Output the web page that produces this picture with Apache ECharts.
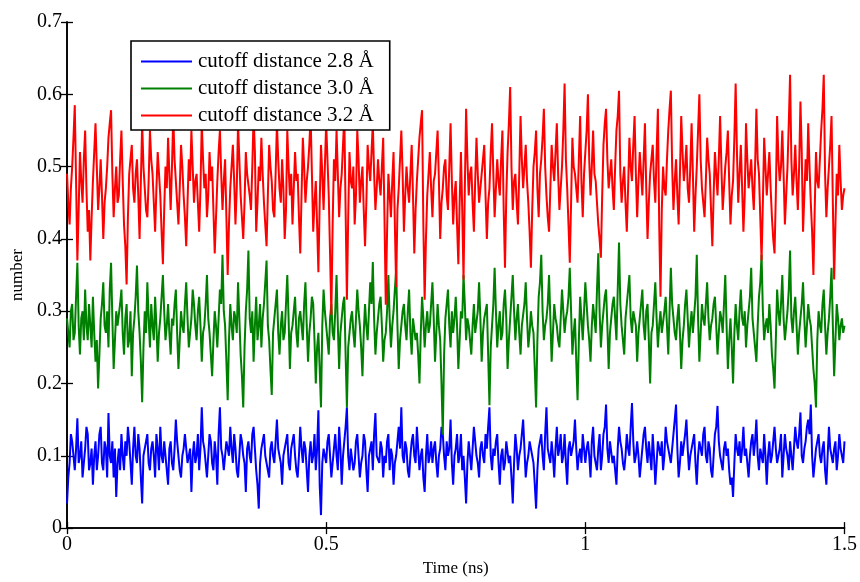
<!DOCTYPE html>
<html>
<head>
<meta charset="utf-8">
<script src="https://cdn.jsdelivr.net/npm/echarts@6/dist/echarts.min.js"></script>
<style>html,body{margin:0;padding:0;background:#fff}#chart{width:860px;height:582px}</style>
</head>
<body>
<div id="chart"></div>
<script>
// sampling step (ns) of the time series
const timeStep = 0.0025;
const seriesNames = ['cutoff distance 2.8 Å', 'cutoff distance 3.0 Å', 'cutoff distance 3.2 Å'];
const xTicks = [0, 0.5, 1, 1.5];
const yTicks = [0, 0.1, 0.2, 0.3, 0.4, 0.5, 0.6, 0.7];

const blue = [
0.034,0.07,0.09,0.13,0.12,0.10,0.08,0.11,0.152,0.09,0.10,0.12,0.07,0.09,0.11,0.14,0.13,0.08,0.09,0.11,
0.06,0.10,0.12,0.08,0.10,0.13,0.14,0.09,0.08,0.12,0.11,0.07,0.159,0.10,0.09,0.12,0.07,0.11,0.043,0.09,
0.11,0.08,0.13,0.10,0.08,0.12,0.10,0.14,0.12,0.09,0.06,0.11,0.14,0.10,0.09,0.13,0.11,0.07,0.034,0.10,
0.10,0.12,0.13,0.09,0.08,0.11,0.12,0.10,0.07,0.13,0.11,0.08,0.14,0.10,0.09,0.12,0.10,0.08,0.06,0.11,
0.12,0.09,0.08,0.11,0.15,0.12,0.10,0.08,0.07,0.10,0.11,0.13,0.13,0.09,0.09,0.11,0.05,0.10,0.12,0.09,
0.10,0.13,0.08,0.11,0.167,0.12,0.11,0.09,0.07,0.10,0.13,0.12,0.09,0.08,0.12,0.10,0.06,0.13,0.167,0.11,
0.10,0.08,0.08,0.12,0.12,0.10,0.14,0.11,0.09,0.13,0.11,0.08,0.07,0.10,0.13,0.12,0.10,0.09,0.05,0.11,
0.12,0.10,0.09,0.13,0.14,0.11,0.08,0.06,0.027,0.09,0.11,0.12,0.13,0.10,0.10,0.08,0.07,0.11,0.12,0.10,
0.09,0.12,0.15,0.11,0.11,0.09,0.06,0.10,0.10,0.12,0.13,0.09,0.08,0.11,0.12,0.13,0.10,0.08,0.07,0.10,
0.14,0.11,0.09,0.12,0.11,0.08,0.05,0.10,0.12,0.09,0.10,0.13,0.08,0.11,0.163,0.06,0.018,0.09,0.11,0.10,
0.09,0.12,0.13,0.10,0.07,0.09,0.11,0.13,0.10,0.08,0.14,0.11,0.06,0.10,0.12,0.14,0.167,0.10,0.08,0.11,
0.11,0.08,0.09,0.12,0.13,0.10,0.07,0.09,0.10,0.13,0.12,0.08,0.05,0.10,0.11,0.12,0.08,0.13,0.159,0.10,
0.10,0.09,0.12,0.11,0.07,0.10,0.09,0.12,0.13,0.08,0.11,0.10,0.06,0.09,0.10,0.12,0.14,0.11,0.167,0.10,
0.09,0.12,0.11,0.08,0.07,0.10,0.12,0.13,0.10,0.09,0.14,0.11,0.08,0.10,0.11,0.07,0.05,0.10,0.13,0.09,
0.10,0.12,0.09,0.11,0.12,0.09,0.07,0.10,0.11,0.14,0.13,0.10,0.08,0.12,0.10,0.11,0.15,0.09,0.06,0.10,
0.11,0.13,0.09,0.10,0.13,0.08,0.10,0.07,0.034,0.09,0.12,0.10,0.08,0.11,0.14,0.12,0.10,0.09,0.07,0.11,
0.12,0.10,0.09,0.13,0.11,0.14,0.167,0.10,0.08,0.11,0.10,0.12,0.13,0.09,0.06,0.10,0.11,0.08,0.09,0.12,
0.12,0.09,0.10,0.07,0.034,0.09,0.13,0.11,0.08,0.10,0.11,0.13,0.15,0.11,0.07,0.09,0.10,0.12,0.12,0.10,
0.09,0.06,0.027,0.08,0.11,0.12,0.13,0.10,0.08,0.13,0.167,0.11,0.10,0.09,0.12,0.10,0.07,0.11,0.14,0.10,
0.11,0.13,0.09,0.10,0.13,0.09,0.06,0.11,0.12,0.10,0.10,0.12,0.15,0.11,0.08,0.10,0.11,0.09,0.13,0.11,
0.09,0.11,0.12,0.10,0.07,0.12,0.14,0.10,0.10,0.08,0.11,0.13,0.08,0.10,0.13,0.14,0.171,0.11,0.09,0.12,
0.12,0.09,0.10,0.08,0.06,0.11,0.14,0.12,0.11,0.09,0.08,0.10,0.13,0.11,0.10,0.14,0.173,0.12,0.09,0.10,
0.12,0.10,0.07,0.09,0.11,0.13,0.14,0.11,0.09,0.12,0.10,0.08,0.13,0.10,0.06,0.09,0.12,0.11,0.10,0.12,
0.08,0.10,0.14,0.12,0.11,0.10,0.09,0.11,0.13,0.15,0.171,0.11,0.07,0.09,0.12,0.10,0.10,0.13,0.15,0.11,
0.08,0.10,0.11,0.12,0.13,0.09,0.06,0.10,0.12,0.11,0.10,0.13,0.14,0.10,0.09,0.12,0.11,0.08,0.07,0.10,
0.13,0.14,0.169,0.12,0.10,0.09,0.08,0.11,0.12,0.10,0.11,0.08,0.06,0.07,0.043,0.09,0.13,0.11,0.10,0.12,
0.09,0.11,0.14,0.10,0.11,0.09,0.07,0.10,0.12,0.13,0.10,0.12,0.15,0.10,0.08,0.11,0.11,0.09,0.13,0.10,
0.06,0.10,0.12,0.09,0.10,0.12,0.14,0.11,0.09,0.10,0.11,0.13,0.07,0.10,0.13,0.11,0.10,0.08,0.12,0.10,
0.08,0.11,0.14,0.12,0.11,0.13,0.16,0.10,0.09,0.11,0.12,0.14,0.15,0.13,0.171,0.10,0.07,0.09,0.11,0.12,
0.13,0.10,0.09,0.11,0.12,0.08,0.06,0.10,0.14,0.11,0.10,0.09,0.11,0.12,0.08,0.10,0.13,0.11,0.10,0.09,
0.12];

const green = [
0.29,0.27,0.25,0.30,0.31,0.26,0.27,0.32,0.367,0.28,0.24,0.29,0.30,0.26,0.33,0.28,0.26,0.31,0.28,0.25,
0.32,0.27,0.23,0.26,0.193,0.24,0.29,0.31,0.34,0.28,0.27,0.30,0.25,0.33,0.367,0.29,0.22,0.26,0.30,0.28,
0.28,0.31,0.33,0.27,0.24,0.29,0.31,0.25,0.26,0.30,0.21,0.27,0.29,0.32,0.363,0.30,0.27,0.23,0.174,0.25,
0.30,0.27,0.34,0.29,0.25,0.31,0.28,0.26,0.32,0.28,0.23,0.27,0.29,0.32,0.35,0.30,0.26,0.28,0.31,0.27,
0.24,0.29,0.28,0.31,0.33,0.27,0.22,0.26,0.30,0.28,0.27,0.31,0.34,0.29,0.25,0.27,0.29,0.33,0.31,0.28,
0.26,0.30,0.32,0.28,0.23,0.27,0.28,0.31,0.35,0.29,0.27,0.24,0.21,0.26,0.30,0.28,0.25,0.29,0.33,0.31,
0.378,0.30,0.28,0.23,0.177,0.26,0.31,0.28,0.26,0.30,0.29,0.27,0.34,0.29,0.24,0.21,0.167,0.25,0.30,0.33,
0.384,0.29,0.27,0.30,0.23,0.28,0.32,0.26,0.28,0.31,0.25,0.29,0.31,0.34,0.37,0.28,0.26,0.22,0.184,0.27,
0.29,0.31,0.33,0.27,0.24,0.28,0.30,0.26,0.27,0.31,0.35,0.29,0.22,0.27,0.28,0.30,0.32,0.27,0.25,0.29,
0.30,0.28,0.26,0.31,0.34,0.28,0.23,0.27,0.29,0.32,0.31,0.26,0.20,0.25,0.27,0.22,0.167,0.28,0.33,0.30,
0.28,0.26,0.24,0.29,0.31,0.27,0.26,0.30,0.35,0.28,0.22,0.27,0.29,0.31,0.32,0.24,0.167,0.25,0.27,0.29,
0.30,0.27,0.25,0.29,0.33,0.30,0.28,0.25,0.21,0.27,0.31,0.28,0.26,0.30,0.34,0.31,0.368,0.29,0.24,0.27,
0.29,0.31,0.32,0.28,0.23,0.26,0.27,0.30,0.35,0.29,0.25,0.28,0.30,0.33,0.357,0.28,0.22,0.26,0.28,0.30,
0.31,0.28,0.26,0.30,0.33,0.27,0.24,0.29,0.29,0.26,0.27,0.24,0.20,0.27,0.32,0.29,0.25,0.28,0.30,0.27,
0.28,0.31,0.34,0.29,0.23,0.27,0.31,0.28,0.26,0.20,0.129,0.24,0.29,0.31,0.33,0.28,0.25,0.30,0.27,0.29,
0.32,0.28,0.22,0.26,0.30,0.29,0.35,0.31,0.26,0.29,0.28,0.26,0.24,0.28,0.31,0.27,0.27,0.30,0.34,0.29,
0.23,0.27,0.29,0.30,0.31,0.24,0.17,0.25,0.28,0.31,0.36,0.30,0.25,0.28,0.30,0.26,0.27,0.31,0.33,0.29,
0.22,0.26,0.29,0.32,0.35,0.30,0.26,0.29,0.31,0.27,0.24,0.28,0.28,0.31,0.34,0.29,0.25,0.27,0.30,0.28,
0.27,0.22,0.167,0.26,0.32,0.34,0.378,0.30,0.26,0.28,0.29,0.31,0.35,0.29,0.23,0.27,0.31,0.29,0.28,0.26,
0.25,0.29,0.33,0.30,0.27,0.29,0.30,0.32,0.36,0.30,0.24,0.27,0.29,0.23,0.177,0.26,0.32,0.29,0.26,0.30,
0.34,0.31,0.28,0.26,0.23,0.28,0.31,0.29,0.27,0.33,0.38,0.30,0.25,0.28,0.30,0.32,0.33,0.28,0.22,0.27,
0.29,0.31,0.32,0.29,0.26,0.33,0.395,0.31,0.28,0.26,0.24,0.29,0.31,0.33,0.35,0.29,0.27,0.30,0.30,0.28,
0.23,0.27,0.29,0.31,0.33,0.28,0.26,0.30,0.31,0.26,0.20,0.27,0.28,0.31,0.34,0.29,0.25,0.28,0.30,0.27,
0.27,0.30,0.32,0.28,0.24,0.30,0.36,0.31,0.29,0.27,0.26,0.29,0.31,0.27,0.22,0.26,0.28,0.31,0.33,0.29,
0.25,0.28,0.30,0.27,0.27,0.32,0.378,0.29,0.23,0.27,0.31,0.29,0.28,0.31,0.34,0.29,0.26,0.28,0.29,0.31,
0.32,0.28,0.24,0.27,0.30,0.29,0.27,0.31,0.35,0.28,0.22,0.26,0.29,0.25,0.20,0.27,0.31,0.28,0.26,0.30,
0.33,0.29,0.28,0.30,0.25,0.28,0.30,0.32,0.36,0.29,0.27,0.25,0.23,0.28,0.32,0.34,0.378,0.30,0.26,0.28,
0.29,0.27,0.31,0.28,0.24,0.22,0.193,0.26,0.33,0.30,0.28,0.31,0.35,0.29,0.26,0.28,0.30,0.33,0.384,0.29,
0.27,0.30,0.32,0.28,0.24,0.27,0.29,0.31,0.34,0.29,0.25,0.28,0.31,0.29,0.28,0.25,0.22,0.20,0.167,0.26,
0.30,0.28,0.27,0.31,0.33,0.28,0.24,0.27,0.29,0.32,0.36,0.28,0.21,0.26,0.31,0.29,0.26,0.28,0.29,0.27,
0.28];

const red = [
0.49,0.45,0.42,0.47,0.50,0.54,0.585,0.48,0.37,0.44,0.52,0.48,0.45,0.51,0.55,0.47,0.41,0.44,0.37,0.43,
0.48,0.52,0.56,0.50,0.44,0.47,0.51,0.46,0.40,0.45,0.47,0.50,0.54,0.56,0.578,0.49,0.43,0.47,0.50,0.45,
0.46,0.51,0.55,0.48,0.42,0.39,0.337,0.43,0.49,0.51,0.53,0.47,0.45,0.49,0.51,0.46,0.40,0.48,0.56,0.50,
0.47,0.44,0.43,0.48,0.55,0.51,0.49,0.45,0.41,0.47,0.52,0.49,0.46,0.41,0.365,0.44,0.50,0.47,0.54,0.49,
0.44,0.50,0.57,0.51,0.48,0.45,0.42,0.47,0.53,0.50,0.46,0.43,0.39,0.45,0.51,0.48,0.55,0.50,0.45,0.48,
0.49,0.45,0.41,0.47,0.56,0.51,0.47,0.49,0.43,0.46,0.52,0.48,0.50,0.44,0.38,0.43,0.48,0.52,0.55,0.49,
0.44,0.48,0.51,0.43,0.35,0.42,0.47,0.50,0.53,0.48,0.42,0.47,0.56,0.51,0.46,0.43,0.40,0.45,0.52,0.49,
0.49,0.46,0.44,0.50,0.57,0.52,0.41,0.45,0.50,0.48,0.54,0.49,0.45,0.42,0.39,0.46,0.53,0.50,0.48,0.44,
0.43,0.49,0.56,0.51,0.47,0.45,0.51,0.47,0.40,0.44,0.55,0.50,0.46,0.49,0.42,0.47,0.52,0.48,0.49,0.43,
0.38,0.46,0.54,0.50,0.45,0.48,0.50,0.53,0.57,0.49,0.41,0.45,0.48,0.42,0.354,0.45,0.53,0.49,0.44,0.50,
0.56,0.51,0.46,0.38,0.295,0.42,0.51,0.48,0.55,0.49,0.43,0.47,0.49,0.53,0.57,0.44,0.316,0.43,0.52,0.48,
0.47,0.50,0.42,0.46,0.55,0.51,0.45,0.48,0.50,0.44,0.39,0.45,0.53,0.50,0.48,0.52,0.56,0.49,0.44,0.47,
0.51,0.48,0.46,0.50,0.54,0.43,0.309,0.41,0.49,0.46,0.43,0.48,0.52,0.42,0.333,0.44,0.47,0.51,0.55,0.49,
0.41,0.46,0.50,0.47,0.45,0.49,0.53,0.46,0.38,0.44,0.48,0.51,0.54,0.56,0.578,0.42,0.316,0.40,0.46,0.49,
0.52,0.47,0.43,0.48,0.49,0.52,0.55,0.48,0.40,0.45,0.47,0.50,0.51,0.46,0.44,0.50,0.56,0.48,0.42,0.46,
0.48,0.42,0.365,0.45,0.52,0.44,0.344,0.47,0.58,0.51,0.46,0.49,0.50,0.45,0.41,0.48,0.54,0.49,0.45,0.47,
0.49,0.51,0.53,0.46,0.40,0.45,0.47,0.52,0.56,0.49,0.43,0.47,0.51,0.48,0.46,0.51,0.55,0.44,0.36,0.46,
0.52,0.56,0.61,0.50,0.44,0.48,0.49,0.45,0.42,0.49,0.57,0.51,0.47,0.50,0.53,0.48,0.45,0.41,0.36,0.44,
0.50,0.52,0.55,0.47,0.43,0.49,0.51,0.54,0.58,0.50,0.46,0.43,0.41,0.47,0.53,0.50,0.48,0.52,0.56,0.49,
0.44,0.47,0.50,0.55,0.615,0.51,0.47,0.42,0.367,0.45,0.54,0.50,0.49,0.47,0.45,0.51,0.57,0.48,0.43,0.49,
0.52,0.55,0.60,0.51,0.46,0.50,0.55,0.49,0.48,0.45,0.42,0.40,0.374,0.46,0.53,0.56,0.58,0.51,0.47,0.49,
0.51,0.47,0.44,0.50,0.55,0.57,0.605,0.49,0.45,0.48,0.50,0.45,0.41,0.47,0.54,0.50,0.48,0.53,0.57,0.49,
0.43,0.48,0.52,0.49,0.46,0.51,0.56,0.47,0.40,0.45,0.49,0.51,0.53,0.48,0.45,0.52,0.58,0.42,0.32,0.44,
0.50,0.47,0.46,0.51,0.55,0.58,0.605,0.50,0.44,0.48,0.51,0.46,0.42,0.49,0.57,0.52,0.48,0.50,0.53,0.47,
0.45,0.50,0.56,0.49,0.41,0.46,0.50,0.55,0.60,0.51,0.47,0.45,0.43,0.48,0.54,0.51,0.49,0.44,0.39,0.46,
0.52,0.49,0.46,0.51,0.57,0.50,0.44,0.47,0.50,0.52,0.55,0.48,0.42,0.46,0.48,0.54,0.615,0.52,0.45,0.49,
0.53,0.47,0.41,0.46,0.56,0.51,0.47,0.49,0.51,0.47,0.44,0.50,0.58,0.51,0.49,0.43,0.37,0.45,0.54,0.50,
0.46,0.49,0.52,0.47,0.43,0.40,0.38,0.46,0.57,0.51,0.48,0.50,0.55,0.49,0.42,0.46,0.50,0.56,0.627,0.51,
0.46,0.49,0.53,0.48,0.44,0.50,0.59,0.52,0.41,0.46,0.51,0.48,0.56,0.50,0.45,0.41,0.35,0.44,0.52,0.48,
0.47,0.51,0.55,0.58,0.627,0.49,0.43,0.47,0.50,0.53,0.57,0.45,0.344,0.42,0.49,0.46,0.53,0.48,0.44,0.46,
0.47];

const colors = ['#0000ff', '#008000', '#ff0000'];
const values = [blue, green, red];

const serif = '"Liberation Serif", "DejaVu Serif", serif';
const chart = echarts.init(document.getElementById('chart'), null, {renderer: 'canvas'});

function pairs(arr) { return arr.map((v, i) => [i * timeStep, v]); }

const axisLine = {show: true, lineStyle: {color: '#000', width: 1.6}};
const axisTick = {show: true, inside: true, length: 6, lineStyle: {color: '#000', width: 1.3}};
const fmt = list => v => { const r = +v.toFixed(2); return list.includes(r) ? String(r) : ''; };

chart.setOption({
  animation: false,
  backgroundColor: '#fff',
  grid: {left: 67, right: 13, top: 22, bottom: 48, containLabel: false},
  legend: {
    left: 131, top: 41, orient: 'vertical',
    data: seriesNames,
    icon: 'rect', itemWidth: 51, itemHeight: 2, itemGap: 6,
    padding: [10, 16, 4, 10],
    borderColor: '#000', borderWidth: 1.6, backgroundColor: '#fff',
    textStyle: {fontFamily: serif, fontSize: 21, color: '#000', padding: [0, 0, 0, 1]},
    z: 10
  },
  xAxis: [
    {type: 'value', min: 0, max: 1.5, interval: 0.5, position: 'bottom',
     name: 'Time (ns)', nameLocation: 'middle', nameGap: 30,
     nameTextStyle: {fontFamily: serif, fontSize: 17, color: '#000'},
     axisLine, axisTick, splitLine: {show: false},
     axisLabel: {fontFamily: serif, fontSize: 20, color: '#000', margin: 7, formatter: fmt(xTicks)}},
    {type: 'value', min: 0, max: 1.5, interval: 0.5, position: 'top',
     axisLine, axisTick, axisLabel: {show: false}, splitLine: {show: false}}
  ],
  yAxis: [
    {type: 'value', min: 0, max: 0.7, interval: 0.1, position: 'left',
     name: 'number', nameLocation: 'middle', nameGap: 38, nameRotate: 90,
     nameTextStyle: {fontFamily: serif, fontSize: 17, color: '#000'},
     axisLine, axisTick, splitLine: {show: false},
     axisLabel: {fontFamily: serif, fontSize: 20, color: '#000', margin: 5, formatter: fmt(yTicks)}},
    {type: 'value', min: 0, max: 0.7, interval: 0.1, position: 'right',
     axisLine, axisTick, axisLabel: {show: false}, splitLine: {show: false}}
  ],
  series: values.map((arr, k) => ({
    name: seriesNames[k], type: 'line', xAxisIndex: 0, yAxisIndex: 0,
    data: pairs(arr), showSymbol: false, symbol: 'none', sampling: undefined,
    lineStyle: {color: colors[k], width: 2}, itemStyle: {color: colors[k]},
    z: 2 + k
  }))
});
</script>
</body>
</html>
